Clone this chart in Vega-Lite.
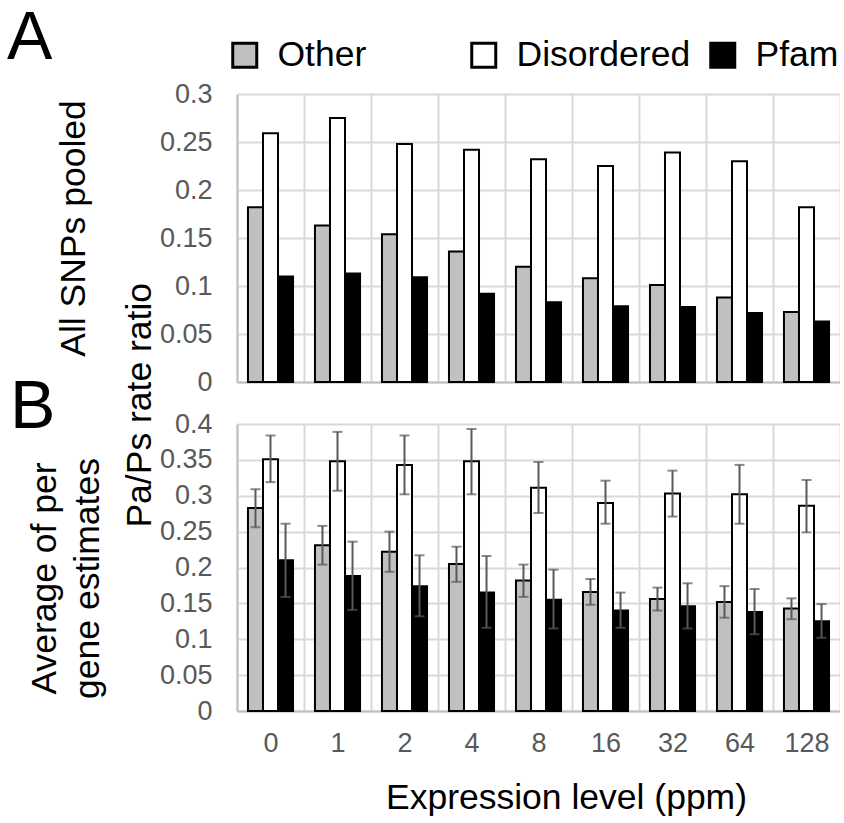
{
  "$schema": "https://vega.github.io/schema/vega-lite/v6.json",
  "padding": {"left": 7, "top": 5, "right": 0, "bottom": 0},
  "autosize": {"type": "pad"},
  "background": "white",
  "title": {"text": "Pa/Ps rate ratio", "orient": "left", "anchor": "middle", "frame": "bounds", "fontSize": 35.5, "font": "Liberation Sans", "fontWeight": "normal", "color": "black", "offset": -151, "dx": 5},
  "config": {
    "font": "Liberation Sans",
    "view": {"stroke": null},
    "axis": {"labelFont": "Liberation Sans", "labelFontSize": 27, "labelColor": "#595959", "titleFont": "Liberation Sans", "titleFontSize": 35.5, "titleFontWeight": "normal", "titleColor": "black", "gridColor": "#d9d9d9", "gridWidth": 2, "domainColor": "#bfbfbf", "domainWidth": 2, "ticks": false},
    "legend": {"labelFont": "Liberation Sans", "labelFontSize": 35.5, "labelColor": "black", "labelLimit": 400}
  },
  "datasets": {
    "pooled": [
      {"expr": "0", "type": "Other", "value": 0.182}, {"expr": "0", "type": "Disordered", "value": 0.259}, {"expr": "0", "type": "Pfam", "value": 0.110},
      {"expr": "1", "type": "Other", "value": 0.163}, {"expr": "1", "type": "Disordered", "value": 0.275}, {"expr": "1", "type": "Pfam", "value": 0.113},
      {"expr": "2", "type": "Other", "value": 0.154}, {"expr": "2", "type": "Disordered", "value": 0.248}, {"expr": "2", "type": "Pfam", "value": 0.109},
      {"expr": "4", "type": "Other", "value": 0.136}, {"expr": "4", "type": "Disordered", "value": 0.242}, {"expr": "4", "type": "Pfam", "value": 0.092},
      {"expr": "8", "type": "Other", "value": 0.120}, {"expr": "8", "type": "Disordered", "value": 0.232}, {"expr": "8", "type": "Pfam", "value": 0.083},
      {"expr": "16", "type": "Other", "value": 0.108}, {"expr": "16", "type": "Disordered", "value": 0.225}, {"expr": "16", "type": "Pfam", "value": 0.079},
      {"expr": "32", "type": "Other", "value": 0.101}, {"expr": "32", "type": "Disordered", "value": 0.239}, {"expr": "32", "type": "Pfam", "value": 0.078},
      {"expr": "64", "type": "Other", "value": 0.088}, {"expr": "64", "type": "Disordered", "value": 0.230}, {"expr": "64", "type": "Pfam", "value": 0.072},
      {"expr": "128", "type": "Other", "value": 0.073}, {"expr": "128", "type": "Disordered", "value": 0.182}, {"expr": "128", "type": "Pfam", "value": 0.063}
    ],
    "pergene": [
      {"expr": "0", "type": "Other", "value": 0.283, "lo": 0.256, "hi": 0.309}, {"expr": "0", "type": "Disordered", "value": 0.351, "lo": 0.319, "hi": 0.384}, {"expr": "0", "type": "Pfam", "value": 0.210, "lo": 0.159, "hi": 0.261},
      {"expr": "1", "type": "Other", "value": 0.231, "lo": 0.204, "hi": 0.258}, {"expr": "1", "type": "Disordered", "value": 0.348, "lo": 0.307, "hi": 0.389}, {"expr": "1", "type": "Pfam", "value": 0.188, "lo": 0.141, "hi": 0.236},
      {"expr": "2", "type": "Other", "value": 0.222, "lo": 0.194, "hi": 0.250}, {"expr": "2", "type": "Disordered", "value": 0.343, "lo": 0.302, "hi": 0.384}, {"expr": "2", "type": "Pfam", "value": 0.174, "lo": 0.132, "hi": 0.217},
      {"expr": "4", "type": "Other", "value": 0.205, "lo": 0.180, "hi": 0.229}, {"expr": "4", "type": "Disordered", "value": 0.348, "lo": 0.302, "hi": 0.393}, {"expr": "4", "type": "Pfam", "value": 0.165, "lo": 0.116, "hi": 0.216},
      {"expr": "8", "type": "Other", "value": 0.182, "lo": 0.159, "hi": 0.204}, {"expr": "8", "type": "Disordered", "value": 0.311, "lo": 0.276, "hi": 0.347}, {"expr": "8", "type": "Pfam", "value": 0.155, "lo": 0.115, "hi": 0.197},
      {"expr": "16", "type": "Other", "value": 0.166, "lo": 0.148, "hi": 0.184}, {"expr": "16", "type": "Disordered", "value": 0.290, "lo": 0.261, "hi": 0.321}, {"expr": "16", "type": "Pfam", "value": 0.140, "lo": 0.116, "hi": 0.165},
      {"expr": "32", "type": "Other", "value": 0.156, "lo": 0.140, "hi": 0.172}, {"expr": "32", "type": "Disordered", "value": 0.303, "lo": 0.271, "hi": 0.335}, {"expr": "32", "type": "Pfam", "value": 0.146, "lo": 0.115, "hi": 0.178},
      {"expr": "64", "type": "Other", "value": 0.152, "lo": 0.130, "hi": 0.174}, {"expr": "64", "type": "Disordered", "value": 0.302, "lo": 0.261, "hi": 0.343}, {"expr": "64", "type": "Pfam", "value": 0.138, "lo": 0.107, "hi": 0.170},
      {"expr": "128", "type": "Other", "value": 0.143, "lo": 0.128, "hi": 0.157}, {"expr": "128", "type": "Disordered", "value": 0.286, "lo": 0.249, "hi": 0.322}, {"expr": "128", "type": "Pfam", "value": 0.125, "lo": 0.102, "hi": 0.149}
    ]
  },
  "spacing": 42,
  "bounds": "flush",
  "resolve": {"legend": {"color": "independent"}},
  "vconcat": [
    {
      "width": 603,
      "height": 288,
      "title": {"text": "A", "anchor": "start", "frame": "group", "fontSize": 68, "fontWeight": "normal", "color": "black", "font": "Liberation Sans", "dx": -230, "offset": -36},
      "data": {"name": "pooled"},
      "mark": {"type": "bar", "stroke": "black", "strokeWidth": 2},
      "encoding": {
        "x": {"field": "expr", "type": "ordinal", "sort": ["0", "1", "2", "4", "8", "16", "32", "64", "128"], "scale": {"paddingInner": 0, "paddingOuter": 0}, "axis": {"labels": false, "title": null, "grid": true, "tickBand": "extent"}},
        "xOffset": {"field": "type", "type": "nominal", "sort": ["Other", "Disordered", "Pfam"], "scale": {"paddingInner": 0, "paddingOuter": 0.73}},
        "y": {"field": "value", "type": "quantitative", "scale": {"domain": [0, 0.3]}, "axis": {"values": [0, 0.05, 0.1, 0.15, 0.2, 0.25, 0.3], "format": "~g", "labelPadding": 25, "title": "All SNPs pooled", "titleAngle": -90, "titleAlign": "center", "titleBaseline": "alphabetic", "titleX": -153, "titleY": 134}},
        "color": {"field": "type", "type": "nominal", "sort": ["Other", "Disordered", "Pfam"], "scale": {"domain": ["Other", "Disordered", "Pfam"], "range": ["#c0c0c0", "#ffffff", "#000000"]},
          "legend": {"title": null, "orient": "none", "legendX": -10, "legendY": -57, "direction": "horizontal", "columns": 3, "gridAlign": "all", "symbolType": "square", "symbolSize": 576, "symbolStrokeColor": "black", "symbolStrokeWidth": 3, "labelOffset": 15, "columnPadding": 13}}
      }
    },
    {
      "width": 603,
      "height": 287,
      "title": {"text": "B", "anchor": "start", "frame": "group", "fontSize": 68, "fontWeight": "normal", "color": "black", "font": "Liberation Sans", "dx": -227, "offset": -32},
      "data": {"name": "pergene"},
      "encoding": {
        "x": {"field": "expr", "type": "ordinal", "sort": ["0", "1", "2", "4", "8", "16", "32", "64", "128"], "scale": {"paddingInner": 0, "paddingOuter": 0}, "axis": {"grid": true, "tickBand": "extent", "labelAngle": 0, "labelPadding": 19, "title": "Expression level (ppm)", "titleX": 329, "titleY": 97, "titleBaseline": "alphabetic", "titleAlign": "center"}},
        "xOffset": {"field": "type", "type": "nominal", "sort": ["Other", "Disordered", "Pfam"], "scale": {"paddingInner": 0, "paddingOuter": 0.73}}
      },
      "layer": [
        {
          "mark": {"type": "bar", "stroke": "black", "strokeWidth": 2},
          "encoding": {
            "y": {"field": "value", "type": "quantitative", "scale": {"domain": [0, 0.4]}, "axis": {"values": [0, 0.05, 0.1, 0.15, 0.2, 0.25, 0.3, 0.35, 0.4], "format": "~g", "labelPadding": 25, "title": ["Average of per", "gene estimates"], "titleLineHeight": 43, "titleAngle": -90, "titleAlign": "center", "titleBaseline": "alphabetic", "titleX": -182, "titleY": 154}},
            "color": {"field": "type", "type": "nominal", "sort": ["Other", "Disordered", "Pfam"], "legend": null}
          }
        },
        {
          "mark": {"type": "rule", "color": "#595959", "strokeWidth": 2},
          "encoding": {"y": {"field": "lo", "type": "quantitative", "axis": {"values": [0, 0.05, 0.1, 0.15, 0.2, 0.25, 0.3, 0.35, 0.4], "format": "~g", "labelPadding": 25, "title": ["Average of per", "gene estimates"], "titleLineHeight": 43, "titleAngle": -90, "titleAlign": "center", "titleBaseline": "alphabetic", "titleX": -182, "titleY": 154}}, "y2": {"field": "hi"}}
        },
        {
          "mark": {"type": "tick", "color": "#595959", "thickness": 2, "size": 10},
          "encoding": {"y": {"field": "lo", "type": "quantitative", "axis": {"values": [0, 0.05, 0.1, 0.15, 0.2, 0.25, 0.3, 0.35, 0.4], "format": "~g", "labelPadding": 25, "title": ["Average of per", "gene estimates"], "titleLineHeight": 43, "titleAngle": -90, "titleAlign": "center", "titleBaseline": "alphabetic", "titleX": -182, "titleY": 154}}}
        },
        {
          "mark": {"type": "tick", "color": "#595959", "thickness": 2, "size": 10},
          "encoding": {"y": {"field": "hi", "type": "quantitative", "axis": {"values": [0, 0.05, 0.1, 0.15, 0.2, 0.25, 0.3, 0.35, 0.4], "format": "~g", "labelPadding": 25, "title": ["Average of per", "gene estimates"], "titleLineHeight": 43, "titleAngle": -90, "titleAlign": "center", "titleBaseline": "alphabetic", "titleX": -182, "titleY": 154}}}
        }
      ]
    }
  ]
}
